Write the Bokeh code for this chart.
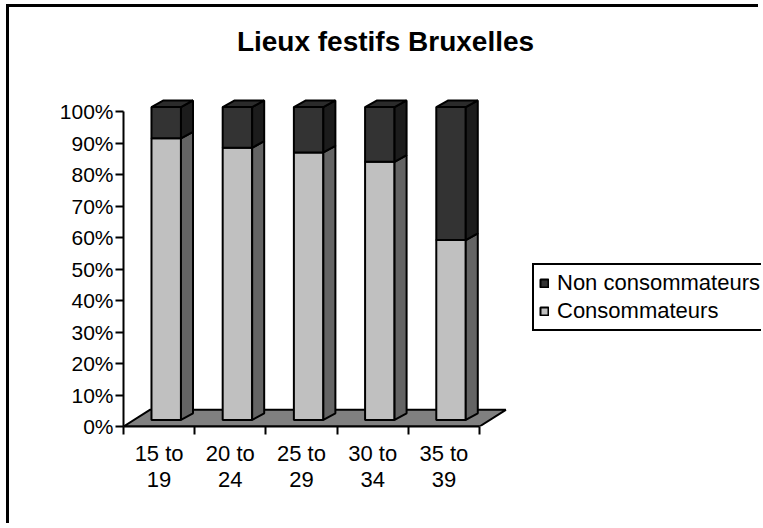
from bokeh.plotting import figure
from bokeh.layouts import column, row
from bokeh.models import Range1d, FixedTicker, Legend, LegendItem, Label, Spacer
from bokeh.embed import file_html
from bokeh.resources import INLINE

# ---- data ----
chart_title = "Lieux festifs Bruxelles"
categories = ["15 to 19", "20 to 24", "25 to 29", "30 to 34", "35 to 39"]
consommateurs = [90.0, 87.0, 85.5, 82.5, 57.5]
non_consommateurs = [100.0 - v for v in consommateurs]
series_names = ["Consommateurs", "Non consommateurs"]
yticks = [0, 10, 20, 30, 40, 50, 60, 70, 80, 90, 100]
ytick_labels = [f"{t}%" for t in yticks]

# ---- layout / style constants ----
W, H = 752, 519
LEFT, BOTTOM = 114, 100
PX_X = 71.2      # pixels per category
PX_Y = 3.15      # pixels per percent
FONT = "Liberation Sans"

BX0, BW = 0.393, 0.414     # bar front-face offset and width (category units)
DX, DY = 0.169, 2.1        # 3-D depth offset of bars
B0, K = 2.1, 0.993         # bar base and vertical scale in the 3-D view
FDX, FDY = 0.37, 5.3       # floor depth

C_LIGHT, C_LIGHT_SIDE = "#c0c0c0", "#646464"
C_DARK, C_DARK_SIDE, C_TOP = "#333333", "#1c1c1c", "#2b2b2b"
C_FLOOR = "#808080"

n = len(categories)
x_end = (W - LEFT) / PX_X
y_end = (H - BOTTOM) / PX_Y

p = figure(width=W, height=H, x_range=Range1d(0, x_end), y_range=Range1d(0, y_end),
           output_backend="svg", toolbar_location=None, title=None,
           min_border_left=LEFT, min_border_bottom=BOTTOM,
           min_border_top=0, min_border_right=0,
           styles={"border-top": "3px solid black", "border-left": "3px solid black"})
p.outline_line_color = None
p.xgrid.visible = False
p.ygrid.visible = False
p.background_fill_color = "white"
p.border_fill_color = "white"

# floor
p.patch([0, n, n + FDX, FDX], [0, 0, FDY, FDY], fill_color=C_FLOOR,
        line_color="black", line_width=2)

lf_x, lf_y, ls_x, ls_y = [], [], [], []
df_x, df_y, ds_x, ds_y = [], [], [], []
tp_x, tp_y = [], []
for i, (c, nc) in enumerate(zip(consommateurs, non_consommateurs)):
    x0 = i + BX0
    x1 = x0 + BW
    ya = B0
    yb = B0 + K * c
    yc = yb + K * nc
    lf_x.append([x0, x1, x1, x0]); lf_y.append([ya, ya, yb, yb])
    ls_x.append([x1, x1 + DX, x1 + DX, x1]); ls_y.append([ya, ya + DY, yb + DY, yb])
    df_x.append([x0, x1, x1, x0]); df_y.append([yb, yb, yc, yc])
    ds_x.append([x1, x1 + DX, x1 + DX, x1]); ds_y.append([yb, yb + DY, yc + DY, yc])
    tp_x.append([x0, x1, x1 + DX, x0 + DX]); tp_y.append([yc, yc, yc + DY, yc + DY])

light_front = p.patches(lf_x, lf_y, fill_color=C_LIGHT, line_color="black", line_width=2)
p.patches(ls_x, ls_y, fill_color=C_LIGHT_SIDE, line_color="black", line_width=2)
dark_front = p.patches(df_x, df_y, fill_color=C_DARK, line_color="black", line_width=2)
p.patches(ds_x, ds_y, fill_color=C_DARK_SIDE, line_color="black", line_width=2)
p.patches(tp_x, tp_y, fill_color=C_TOP, line_color="black", line_width=2)

# title
p.add_layout(Label(x=(385 - 123) / PX_X, y=(426 - 40.5) / PX_Y, text=chart_title,
                   text_align="center", text_baseline="alphabetic",
                   text_font=FONT, text_font_style="bold", text_font_size="28px",
                   text_color="black"))

# y axis
ya_ = p.yaxis[0]
ya_.ticker = FixedTicker(ticks=yticks, minor_ticks=[])
ya_.bounds = (0, 100)
ya_.major_label_overrides = {t: l for t, l in zip(yticks, ytick_labels)}
ya_.axis_line_width = 2
ya_.major_tick_line_width = 2
ya_.major_tick_out = 8
ya_.major_tick_in = 0
ya_.minor_tick_line_color = None
ya_.major_label_standoff = 2
ya_.major_label_text_font = FONT
ya_.major_label_text_font_size = "21px"
ya_.major_label_text_color = "black"

# x axis
xa = p.xaxis[0]
centers = [i + 0.5 for i in range(n)]
xa.ticker = FixedTicker(ticks=centers, minor_ticks=list(range(n + 1)))
xa.bounds = (0, n)
xa.major_label_overrides = {cx: lab.replace(" to ", " to\n") for cx, lab in zip(centers, categories)}
xa.axis_line_width = 2
xa.major_tick_line_color = None
xa.major_tick_out = 8
xa.major_tick_in = 0
xa.minor_tick_line_width = 2
xa.minor_tick_out = 8
xa.minor_tick_in = 0
xa.major_label_standoff = 6
xa.major_label_text_font = FONT
xa.major_label_text_font_size = "22px"
xa.major_label_text_color = "black"
xa.major_label_text_line_height = 1.07

# legend
legend = Legend(items=[LegendItem(label=series_names[1], renderers=[dark_front]),
                       LegendItem(label=series_names[0], renderers=[light_front])],
                location=(532 - 123, 426 - 331), margin=0, padding=5, spacing=2,
                glyph_width=10, glyph_height=10, label_standoff=8, label_height=25,
                label_text_font=FONT, label_text_font_size="22px",
                label_text_color="black",
                border_line_color="black", border_line_width=2, border_line_alpha=1.0,
                background_fill_color="white", background_fill_alpha=1.0)
p.add_layout(legend)

page = column(Spacer(height=4), row(Spacer(width=6), p))
open("out.html", "w").write(file_html(page, INLINE))
